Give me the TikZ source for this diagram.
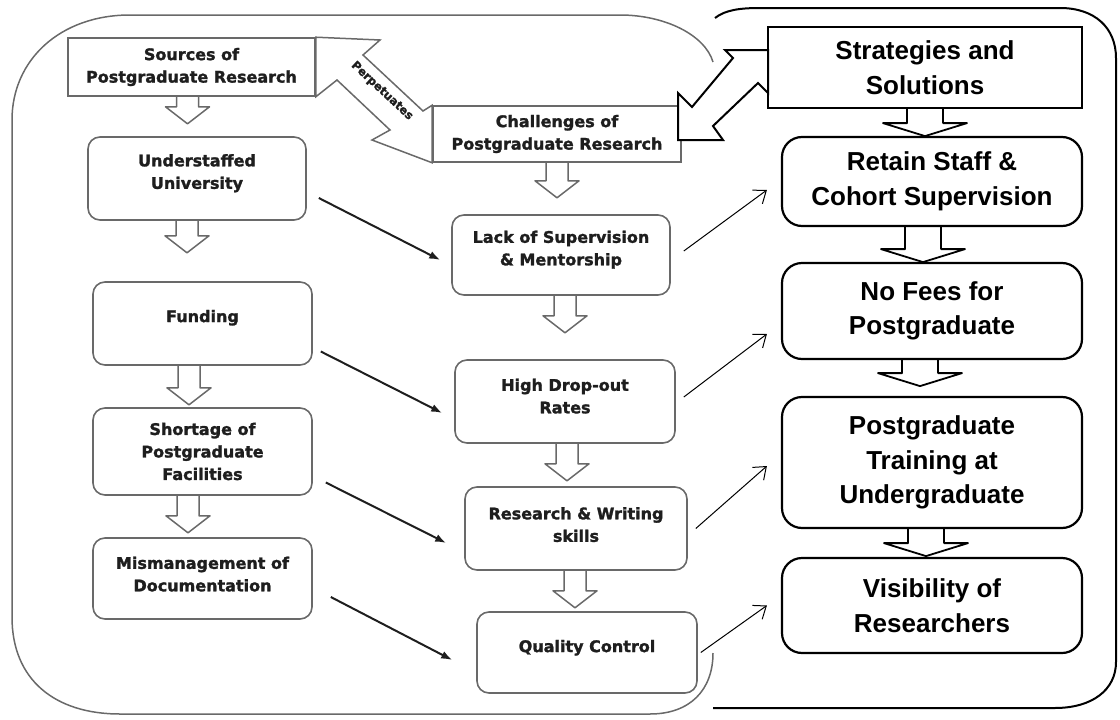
\documentclass[tikz,border=0pt]{standalone}
\usepackage{fontspec}
\setmainfont{Liberation Sans}
\newfontfamily\heavyfont{DejaVu Sans}[BoldFeatures={FakeBold=1.6}]
\usetikzlibrary{arrows.meta}
\definecolor{lgray}{RGB}{105,105,105}
\definecolor{ltext}{RGB}{30,30,30}
\tikzset{
  lhollow/.pic={\draw[lgray,line width=1.5pt,line join=round] (-11,0) -- (-11,#1-17) -- (-22,#1-17) -- (0,#1) -- (22,#1-17) -- (11,#1-17) -- (11,0);},
  rhollow/.pic={\draw[line width=1.8pt,line join=round] (-18,0) -- (-18,#1-13) -- (-42,#1-13) -- (0,#1) -- (42,#1-13) -- (18,#1-13) -- (18,0);}
}

\begin{document}
\begin{tikzpicture}[x=1pt,y=-1pt,
  lbox/.style={draw=lgray,line width=1.6pt,rounded corners=12pt,align=center,text=ltext,inner sep=0pt,
    font=\heavyfont\bfseries\fontsize{16}{22.5}\selectfont},
  lrect/.style={lbox,sharp corners},
  rbox/.style={draw=black,line width=2.2pt,rounded corners=20pt,align=center,inner sep=0pt,
    font=\bfseries\fontsize{26}{34.5}\selectfont,minimum width=300pt},
  lift/.style={text depth=#1},
  darr/.style={draw=ltext,line width=2pt,-{Latex[length=11pt,width=8pt]}},
  thinarr/.style={line width=1pt,-{Straight Barb[length=11pt,width=17pt]}}
]
\useasboundingbox (0,0) rectangle (1120,720);

% the two panels
\draw[lgray,line width=1.5pt] (713,62) .. controls (705,35) and (665,15) .. (620,15) -- (130,15)
  .. controls (60,15) and (12,60) .. (12,120) -- (12,617) .. controls (12,680) and (55,714) .. (120,714)
  -- (650,714) .. controls (690,714) and (713,690) .. (713,653);
\draw[line width=2pt] (715,18) .. controls (725,10) and (740,8) .. (760,8) -- (1060,8)
  .. controls (1095,8) and (1116,28) .. (1116,58) -- (1116,662) .. controls (1116,690) and (1092,708) .. (1055,708) -- (713,708);

% sources
\node[lrect,minimum width=247pt,minimum height=58pt] (src) at (191.5,67) {Sources of\\Postgraduate Research};
\node[lbox,minimum width=218pt,minimum height=83pt,lift=14pt] (und) at (197,178.5) {Understaffed\\University};
\node[lbox,minimum width=219pt,minimum height=83pt,lift=15pt] (fund) at (202.5,323.5) {Funding};
\node[lbox,minimum width=219pt,minimum height=87pt] (short) at (202.5,451.5) {Shortage of\\Postgraduate\\Facilities};
\node[lbox,minimum width=219pt,minimum height=81pt,lift=9pt] (mism) at (202.5,578.5) {Mismanagement of\\Documentation};

% challenges
\node[lrect,minimum width=248pt,minimum height=56pt] (chal) at (557,134) {Challenges of\\Postgraduate Research};
\node[lbox,minimum width=218pt,minimum height=80pt,lift=14pt] (lack) at (561,255) {Lack of Supervision\\\& Mentorship};
\node[lbox,minimum width=220pt,minimum height=83pt,lift=11pt] (high) at (565,401.5) {High Drop-out\\Rates};
\node[lbox,minimum width=222pt,minimum height=83pt,lift=8pt] (res) at (576,528.5) {Research \& Writing\\skills};
\node[lbox,minimum width=220pt,minimum height=81pt,lift=13pt] (qual) at (587,652.5) {Quality Control};

% strategies
\node[rbox,sharp corners,minimum width=314pt,minimum height=81pt] (strat) at (925,67.5) {Strategies and\\Solutions};
\node[rbox,minimum height=89pt] (ret) at (932,181.5) {Retain Staff \&\\Cohort Supervision};
\node[rbox,minimum height=96pt] (fees) at (932,311) {No Fees for\\Postgraduate};
\node[rbox,minimum height=131pt] (train) at (932,462.5) {Postgraduate\\Training at\\Undergraduate};
\node[rbox,minimum height=95pt] (vis) at (932,605.5) {Visibility of\\Researchers};

% hollow down arrows
\pic at ([xshift=-4pt]src.south) {lhollow=27};
\pic at ([xshift=-10pt]und.south) {lhollow=32};
\pic at ([xshift=-13.5pt]fund.south) {lhollow=39};
\pic at ([xshift=-14.5pt]short.south) {lhollow=37};
\pic at (chal.south) {lhollow=35};
\pic at ([xshift=4pt]lack.south) {lhollow=37};
\pic at ([xshift=2pt]high.south) {lhollow=37};
\pic at ([xshift=-1pt]res.south) {lhollow=37};
\pic at (strat.south) {rhollow=27};
\pic at ([xshift=-9pt]ret.south) {rhollow=35};
\pic at ([xshift=-12pt]fees.south) {rhollow=26};
\pic at ([xshift=-6pt]train.south) {rhollow=27};

% block arrows
\draw[lgray,line width=1.5pt,fill=white] (src.north east) -- (380,40) -- (363,55) -- (423,111) -- (chal.north west)
  -- (chal.south west) -- (372,140) -- (390,130) -- (337,80) -- (src.south east) -- cycle;
\node[rotate=-43,text=ltext,font=\heavyfont\bfseries\fontsize{11.5}{11.5}\selectfont] (perp) at (382,91) {Perpetuates};
\draw[line width=2pt,fill=white] (768,50) -- (768,93) -- (758,83) -- (713,126) -- (723,140) -- (678,140)
  -- (678,93) -- (692,107) -- (733,58) -- (725,50) -- cycle;

% sources to challenges
\draw[darr] ([shift={(12,19.5)}]und.east) -- ([shift={(-11,5)}]lack.west);
\draw[darr] ([shift={(8,28)}]fund.east) -- ([shift={(-12,11.5)}]high.west);
\draw[darr] ([shift={(13,31)}]short.east) -- ([shift={(-18,14.5)}]res.west);
\draw[darr] ([shift={(18,18.5)}]mism.east) -- ([shift={(-24,7.5)}]qual.west);

% challenges to strategies
\draw[thinarr] ([shift={(13,-4)}]lack.east) -- ([shift={(-14,8.5)}]ret.west);
\draw[thinarr] ([shift={(8,-4.5)}]high.east) -- ([shift={(-14,23)}]fees.west);
\draw[thinarr] ([shift={(8,0)}]res.east) -- ([shift={(-14,3.5)}]train.west);
\draw[thinarr] ([shift={(3,0)}]qual.east) -- ([shift={(-14,0)}]vis.west);
\end{tikzpicture}
\end{document}
